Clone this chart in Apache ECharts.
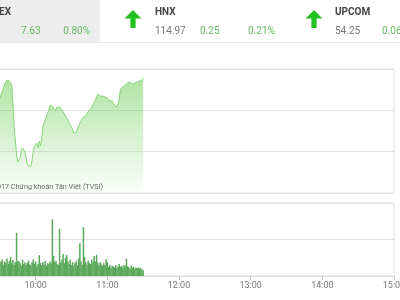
<!DOCTYPE html>
<html>
<head>
<meta charset="utf-8">
<script src="https://cdn.jsdelivr.net/npm/echarts@6/dist/echarts.min.js"></script>
<style>html,body{margin:0;padding:0;background:#fff;}#c{width:400px;height:300px;}</style>
</head>
<body>
<div id="c"></div>
<script>
// ---- data ----
var startMinute = 570; // 09:30, one point per minute
var indexValues = [961.49,961.85,962.33,962.70,963.18,963.42,963.66,963.42,963.54,963.54,
963.06,960.64,957.86,956.41,954.59,953.75,953.63,954.23,955.08,955.44,
955.32,954.96,954.23,953.51,953.26,953.14,953.26,953.99,955.20,955.68,
955.56,956.05,955.44,956.29,955.68,956.41,958.10,958.46,958.83,959.19,
959.67,960.04,960.64,960.40,960.52,960.16,960.28,960.04,960.40,960.16,
960.40,960.28,960.04,959.79,959.67,959.31,959.07,958.83,958.46,958.34,
957.98,957.62,957.26,957.13,957.38,957.62,958.10,958.46,958.71,958.95,
959.19,959.43,959.31,959.67,959.79,960.04,959.92,960.28,960.76,961.00,
961.25,961.49,961.97,962.21,961.73,961.61,961.73,961.49,961.61,961.37,
961.49,961.25,961.12,961.00,961.12,960.88,960.64,960.52,960.40,960.28,
961.37,962.58,962.70,962.82,962.94,963.06,963.18,963.30,963.18,963.42,
963.30,963.18,963.42,963.30,963.18,963.42,963.30,963.54,963.42,963.66,963.91];
var volumeValues = [0.42,0.38,0.45,0.30,0.40,0.36,0.48,0.33,0.41,0.52,0.35,
0.44,0.30,0.38,1.18,0.40,
0.41,0.35,0.28,0.45,0.33,0.38,0.30,0.36,0.42,0.32,
0.29,0.38,0.45,0.34,0.40,0.27,0.33,0.57,0.36,0.30,
0.38,0.31,0.42,0.28,0.35,0.33,0.40,0.35,1.56,0.55,
0.38,0.42,0.33,0.30,1.29,0.36,0.45,0.60,0.35,0.50,
0.58,0.40,0.32,0.45,0.30,0.38,0.28,0.35,0.42,0.30,
0.48,0.90,0.40,0.30,1.34,0.52,0.38,0.30,0.42,0.35,
0.33,0.45,0.38,0.55,0.40,0.58,0.36,0.30,0.38,0.32,
0.28,0.35,0.30,0.46,0.38,0.25,0.30,0.22,0.28,0.26,
0.24,0.30,0.22,0.27,0.33,0.25,0.28,0.23,0.30,0.26,
0.48,0.27,0.24,0.20,0.28,0.22,0.25,0.19,0.23,0.21,
0.24,0.20,0.22,0.18,0.16];
var tickLabels = ['09:00','10:00','11:00','12:00','13:00','14:00','15:00'];
var headerNames = ['EX','HNX','UPCOM'];
var headerPrices = ['7.63','114.97','54.25'];
var headerChanges = ['0.80%','0.25','0.06'];
var headerPercents = ['','0.21%',''];
var credit = '© 2017 Chứng khoán Tân Việt (TVSI)';

// ---- build ----
var lineData = indexValues.map(function(v,i){return [startMinute+i, v];});
var barData = volumeValues.map(function(v,i){return [startMinute+i, v];});
function fmt(m){var h=Math.floor(m/60), mm=m%60; return (h<10?'0':'')+h+':'+(mm<10?'0':'')+mm;}
var F = 'Roboto, sans-serif';
var green = '#63b863';

function arrow(cx){
  return {type:'polygon', shape:{points:[[cx,10],[cx+8.5,18.5],[cx+2.6,18.5],[cx+2.6,28],[cx-2.6,28],[cx-2.6,18.5],[cx-8.5,18.5]]},
    style:{fill:'#1fc21f'}, z:10};
}
function txt(x,y,t,opt){
  return {type:'text', x:x, y:y, z:10, style:Object.assign({text:t, font:'10px '+F, fill:'#777', textVerticalAlign:'middle'}, opt||{})};
}

var chart = echarts.init(document.getElementById('c'), null, {renderer:'canvas'});
chart.setOption({
  animation:false,
  backgroundColor:'#fff',
  grid:[
    {left:-36, right:6, top:69, height:124, show:true, borderColor:'#e2e2e2', borderWidth:1, outerBoundsMode:'none', containLabel:false},
    {left:-36, right:6, top:203, height:73, show:true, borderColor:'#e2e2e2', borderWidth:1, outerBoundsMode:'none', containLabel:false}
  ],
  xAxis:[
    {type:'value', gridIndex:0, min:540, max:900, interval:60, axisLabel:{show:false}, axisTick:{show:false}, axisLine:{show:false}, splitLine:{show:false}},
    {type:'value', gridIndex:1, min:540, max:900, interval:60,
      axisLabel:{show:true, fontSize:9, color:'#777', fontFamily:F, margin:5, hideOverlap:false, formatter:function(v){var i=(v-540)/60; return tickLabels[i]||fmt(v);}},
      axisTick:{show:true, length:4, lineStyle:{color:'#ccc'}}, axisLine:{show:true, lineStyle:{color:'#ddd'}}, splitLine:{show:false}}
  ],
  yAxis:[
    {type:'value', gridIndex:0, min:950, max:965, interval:5, axisLabel:{show:false}, axisTick:{show:false}, axisLine:{show:false}, splitLine:{show:true, lineStyle:{color:'#e2e2e2'}}},
    {type:'value', gridIndex:1, min:0, max:2, interval:1, axisLabel:{show:false}, axisTick:{show:false}, axisLine:{show:false}, splitLine:{show:true, lineStyle:{color:'#e2e2e2'}}}
  ],
  series:[
    {type:'line', xAxisIndex:0, yAxisIndex:0, data:lineData, showSymbol:false, symbol:'none',
      lineStyle:{color:'#86d478', width:1},
      areaStyle:{origin:'start', color:new echarts.graphic.LinearGradient(0,0,0,1,[{offset:0,color:'rgba(120,210,100,0.85)'},{offset:1,color:'rgba(120,210,100,0.03)'}])}},
    {type:'bar', xAxisIndex:1, yAxisIndex:1, data:barData, barWidth:1.5,
      itemStyle:{color:'#58a858'}}
  ],
  graphic:[
    {type:'rect', shape:{x:0,y:0,width:100,height:42}, style:{fill:'#ededed'}, z:1},
    {type:'line', shape:{x1:0,y1:42.5,x2:400,y2:42.5}, style:{stroke:'#e6e6e6', lineWidth:1}, z:1},
    txt(-1,12,headerNames[0],{font:'bold 10px '+F, fill:'#444'}),
    txt(21,31,headerPrices[0],{fill:green}),
    txt(90,31,headerChanges[0],{fill:green, textAlign:'right'}),
    arrow(133),
    txt(155,12,headerNames[1],{font:'bold 10px '+F, fill:'#444'}),
    txt(155,31,headerPrices[1]),
    txt(200,31,headerChanges[1],{fill:green}),
    txt(248,31,headerPercents[1],{fill:green}),
    arrow(314),
    txt(335,12,headerNames[2],{font:'bold 10px '+F, fill:'#444'}),
    txt(335,31,headerPrices[2]),
    txt(382,31,headerChanges[2],{fill:green}),
    txt(103,187,credit,{font:'7.2px '+F, fill:'#666', textAlign:'right'})
  ]
});
</script>
</body>
</html>
